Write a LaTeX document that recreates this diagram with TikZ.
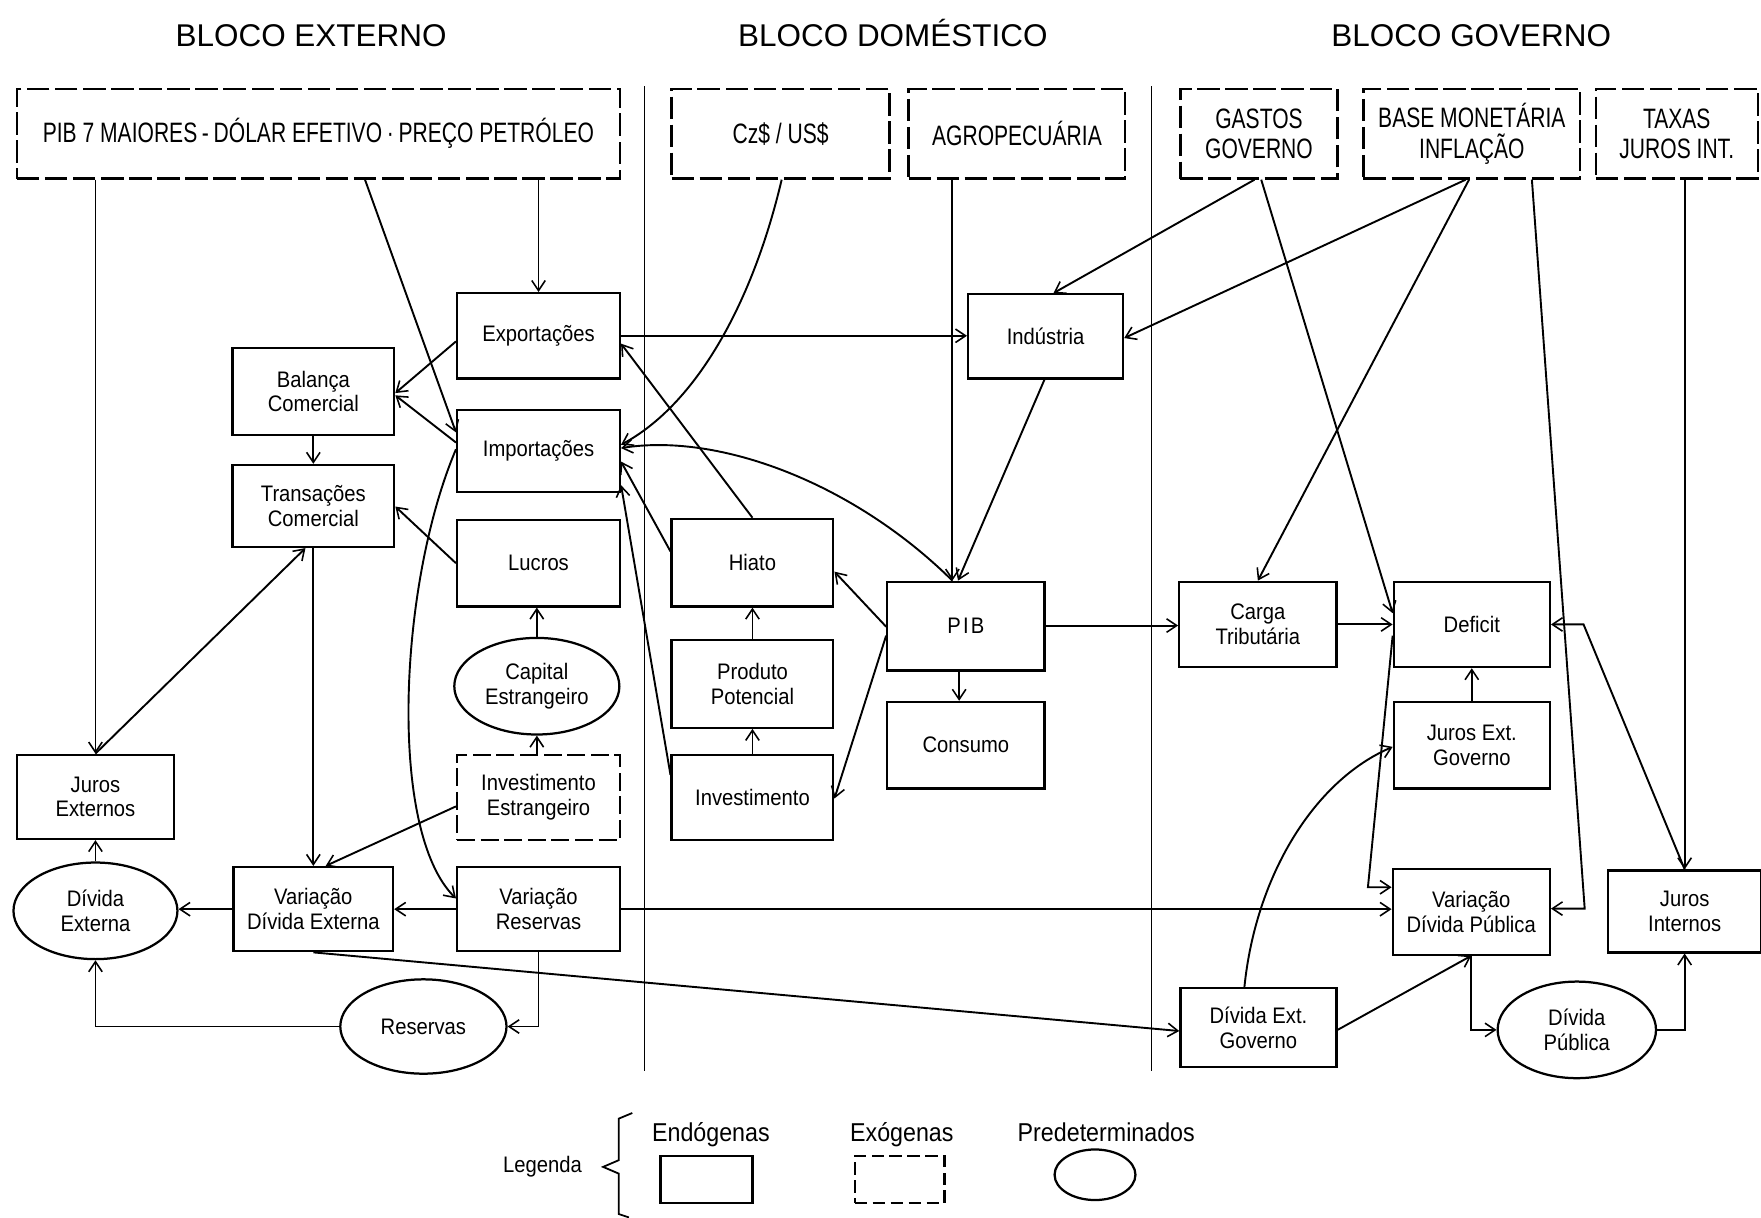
\documentclass[tikz,border=0pt]{standalone}
\usepackage{fontspec}
\setmainfont{Liberation Sans}
\newfontfamily\boxfont[FakeStretch=0.9]{Liberation Sans}
\newfontfamily\capfont[FakeStretch=0.75]{Liberation Sans}
\usetikzlibrary{arrows.meta,shapes.geometric,calc}
\begin{document}
\begin{tikzpicture}[x=1pt,y=-1pt,
  endo/.style={draw, line width=2pt, align=center, inner sep=0pt,
    font=\boxfont\fontsize{20}{22}\selectfont},
  exo/.style={endo, dash pattern=on 16pt off 5pt},
  topbox/.style={draw, line width=2pt, dash pattern=on 20pt off 5pt, align=center, inner sep=0pt,
    minimum height=80pt, font=\capfont\fontsize{25}{27}\selectfont},
  pre/.style={endo, ellipse},
  arr/.style={line width=1.7pt, -{Straight Barb[length=9pt,width=12pt,line width=1.4pt]}},
  sep/.style={line width=1pt},
  titl/.style={font=\fontsize{28}{30}\selectfont, anchor=base},
  leg/.style={font=\boxfont\fontsize{23}{25}\selectfont, anchor=base}
]
\useasboundingbox (0,0) rectangle (1568,1084);

% titles
\node[titl] (tE) at (277,41) {BLOCO EXTERNO};
\node[titl] (tD) at (795,41) {BLOCO DOMÉSTICO};
\node[titl] (tG) at (1310,41) {BLOCO GOVERNO};

% separators
\draw[sep] (573.5,77) -- (573.5,954);
\draw[sep] (1025,77) -- (1025,954);

% top exogenous boxes
\node[topbox, minimum width=537pt] (pib7) at (283.5,119) {PIB 7 MAIORES\,-\,DÓLAR EFETIVO\,·\,PREÇO PETRÓLEO};
\node[topbox, minimum width=194pt] (czus) at (695,119) {Cz\$ / US\$};
\node[topbox, minimum width=193pt] (agro) at (905.5,119) {AGROPECUÁRIA};
\node[topbox, minimum width=140pt] (gastos) at (1121,119) {GASTOS\\GOVERNO};
\node[topbox, minimum width=193pt] (base) at (1310.5,119) {BASE MONETÁRIA\\INFLAÇÃO};
\node[topbox, minimum width=144pt] (taxas) at (1493,119) {TAXAS\\JUROS INT.};

% external block
\node[endo, minimum width=145pt, minimum height=76pt] (exp) at (479.5,299) {Exportações};
\node[endo, minimum width=144pt, minimum height=77pt] (bal) at (279,348.5) {Balança\\Comercial};
\node[endo, minimum width=145pt, minimum height=73pt] (imp) at (479.5,401.5) {Importações};
\node[endo, minimum width=144pt, minimum height=73pt] (tra) at (279,450.5) {Transações\\Comercial};
\node[endo, minimum width=145pt, minimum height=77pt] (luc) at (479.5,501.5) {Lucros};
\node[pre, minimum width=147pt, minimum height=86pt] (cap) at (478,611) {Capital\\Estrangeiro};
\node[exo, minimum width=145pt, minimum height=76pt] (inv) at (479.5,710) {Investimento\\Estrangeiro};
\node[endo, minimum width=140pt, minimum height=75pt] (jex) at (85,709.5) {Juros\\Externos};
\node[pre, minimum width=146pt, minimum height=86pt] (dex) at (85,811) {Dívida\\Externa};
\node[endo, minimum width=142pt, minimum height=75pt] (vde) at (279,809.5) {Variação\\Dívida Externa};
\node[endo, minimum width=145pt, minimum height=75pt] (vr) at (479.5,809.5) {Variação\\Reservas};
\node[pre, minimum width=148pt, minimum height=84pt] (res) at (377,914) {Reservas};

% domestic block
\node[endo, minimum width=138pt, minimum height=75pt] (ind) at (931,299.5) {Indústria};
\node[endo, minimum width=144pt, minimum height=78pt] (hia) at (670,501) {Hiato};
\node[endo, minimum width=144pt, minimum height=78pt] (pp) at (670,609) {Produto\\Potencial};
\node[endo, minimum width=144pt, minimum height=76pt] (invd) at (670,710) {Investimento};
\node[endo, minimum width=140pt, minimum height=79pt] (pib) at (860,557.5) {P\kern2pt I\kern2pt B};
\node[endo, minimum width=140pt, minimum height=77pt] (con) at (860,663.5) {Consumo};

% government block
\node[endo, minimum width=140pt, minimum height=76pt] (ct) at (1120,556) {Carga\\Tributária};
\node[endo, minimum width=139pt, minimum height=76pt] (def) at (1310.5,556) {Deficit};
\node[endo, minimum width=139pt, minimum height=77pt] (jeg) at (1310.5,663.5) {Juros Ext.\\Governo};
\node[endo, minimum width=140pt, minimum height=76pt] (vdp) at (1310,812) {Variação\\Dívida Pública};
\node[endo, minimum width=136pt, minimum height=73pt] (jin) at (1500,811.5) {Juros\\Internos};
\node[endo, minimum width=139pt, minimum height=70pt] (deg) at (1120.5,915) {Dívida Ext.\\Governo};
\node[pre, minimum width=141pt, minimum height=86pt] (dp) at (1404,917) {Dívida\\Pública};

% ---------- connectors: external
\draw[arr] (pib7.south -| jex.north) -- (jex.north);
\draw[arr] (pib7.south -| 325,0) -- (imp.west |- 0,385);
\draw[arr] (pib7.south -| exp.north) -- (exp.north);
\draw[arr] (exp.west |- 0,304) -- (bal.east |- 0,350);
\draw[arr] (imp.west |- 0,394) -- (bal.east |- 0,352);
\draw[arr] (bal.south) -- (tra.north);
\draw[arr] (luc.west) -- (tra.east |- 0,451);
\draw[arr] (jex.north) -- (tra.south -| 272,0);
\draw[arr] (tra.south) -- (vde.north);
\draw[arr] (cap.north) -- (luc.south -| cap.north);
\draw[arr] (inv.north -| cap.south) -- (cap.south);
\draw[arr] (inv.west |- 0,718) -- (vde.north -| 290,0);
\draw[arr] (imp.west |- 0,400) .. controls (355,520) and (345,740) .. (vr.west |- 0,800);
\draw[arr] (vr.west) -- (vde.east);
\draw[arr] (vde.west) -- (dex.east |- vde.west);
\draw[arr] (vr.south) |- (res.east);
\draw[arr] (res.west) -| (dex.south);
\draw[arr] (dex.north) -- (jex.south);
\draw[arr] (vde.south) -- (deg.west |- 0,918);
\draw[arr] (vr.east) -- (vdp.west |- vr.east);

% ---------- connectors: domestic
\draw[arr] (czus.south -| 696,0) .. controls (670,270) and (620,360) .. (imp.east |- 0,396);
\draw[arr] (exp.east) -- (ind.west |- exp.east);
\draw[arr] (hia.north) -- (exp.east |- 0,306);
\draw[arr] (hia.west |- 0,491) -- (imp.east |- 0,411);
\draw[arr] (invd.west |- 0,690) -- (imp.east |- 0,432);
\draw[arr] (pib.north -| 848,0) .. controls (760,430) and (640,385) .. (imp.east |- 0,399);
\draw[arr] (agro.south -| 848,0) -- (pib.north -| 848,0);
\draw[arr] (ind.south -| 930,0) -- (pib.north -| 853,0);
\draw[arr] (pib.west |- 0,558) -- (hia.east |- 0,509);
\draw[arr] (pib.west |- 0,566) -- (invd.east |- 0,711);
\draw[arr] (pp.north) -- (hia.south);
\draw[arr] (invd.north) -- (pp.south);
\draw[arr] (pib.south -| 854,0) -- (con.north -| 854,0);
\draw[arr] (pib.east |- 0,557) -- (ct.west |- 0,557);

% ---------- connectors: government
\draw[arr] (gastos.south -| 1117,0) -- (ind.north -| 938,0);
\draw[arr] (gastos.south -| 1123,0) -- (def.west |- 0,546);
\draw[arr] (base.south -| 1305,0) -- (ind.east |- 0,301);
\draw[arr] (base.south -| 1308,0) -- (ct.north);
\draw[arr] (base.south -| 1364,0) -- (1411,809) -- (vdp.east |- 0,809);
\draw[arr] (taxas.south -| jin.north) -- (jin.north);
\draw[arr] (jin.north) -- (1410,556) -- (def.east |- 0,556);
\draw[arr] (jeg.north) -- (def.south);
\draw[arr] (ct.east) -- (def.west |- ct.east);
\draw[arr] (def.west |- 0,566) -- (1218,790) -- (vdp.west |- 0,790);
\draw[arr] (deg.north -| 1108,0) .. controls (1118,780) and (1170,695) .. (jeg.west |- 0,665);
\draw[arr] (deg.east |- 0,917) -- (vdp.south);
\draw[arr] (vdp.south) |- (dp.west);
\draw[arr] (dp.east) -| (jin.south);

% ---------- legend
\node[font=\boxfont\fontsize{20}{22}\selectfont] (lg) at (483,1039) {Legenda};
\draw[line width=1.6pt] (563,991) -- (551,996) -- (551,1033) -- (537,1039) -- (551,1045) -- (551,1081) -- (560,1084);
\node[leg] (lgE) at (633,1016) {Endógenas};
\node[leg] (lgX) at (803,1016) {Exógenas};
\node[leg] (lgP) at (985,1016) {Predeterminados};
\node[draw, line width=2pt, minimum width=82pt, minimum height=42pt, inner sep=0pt] (lgr) at (629,1050) {};
\node[draw, line width=2pt, dash pattern=on 11pt off 5pt, minimum width=80pt, minimum height=42pt, inner sep=0pt] (lgd) at (801,1050) {};
\node[draw, ellipse, line width=2pt, minimum width=72pt, minimum height=45pt, inner sep=0pt] (lge) at (975,1046) {};
\end{tikzpicture}
\end{document}
